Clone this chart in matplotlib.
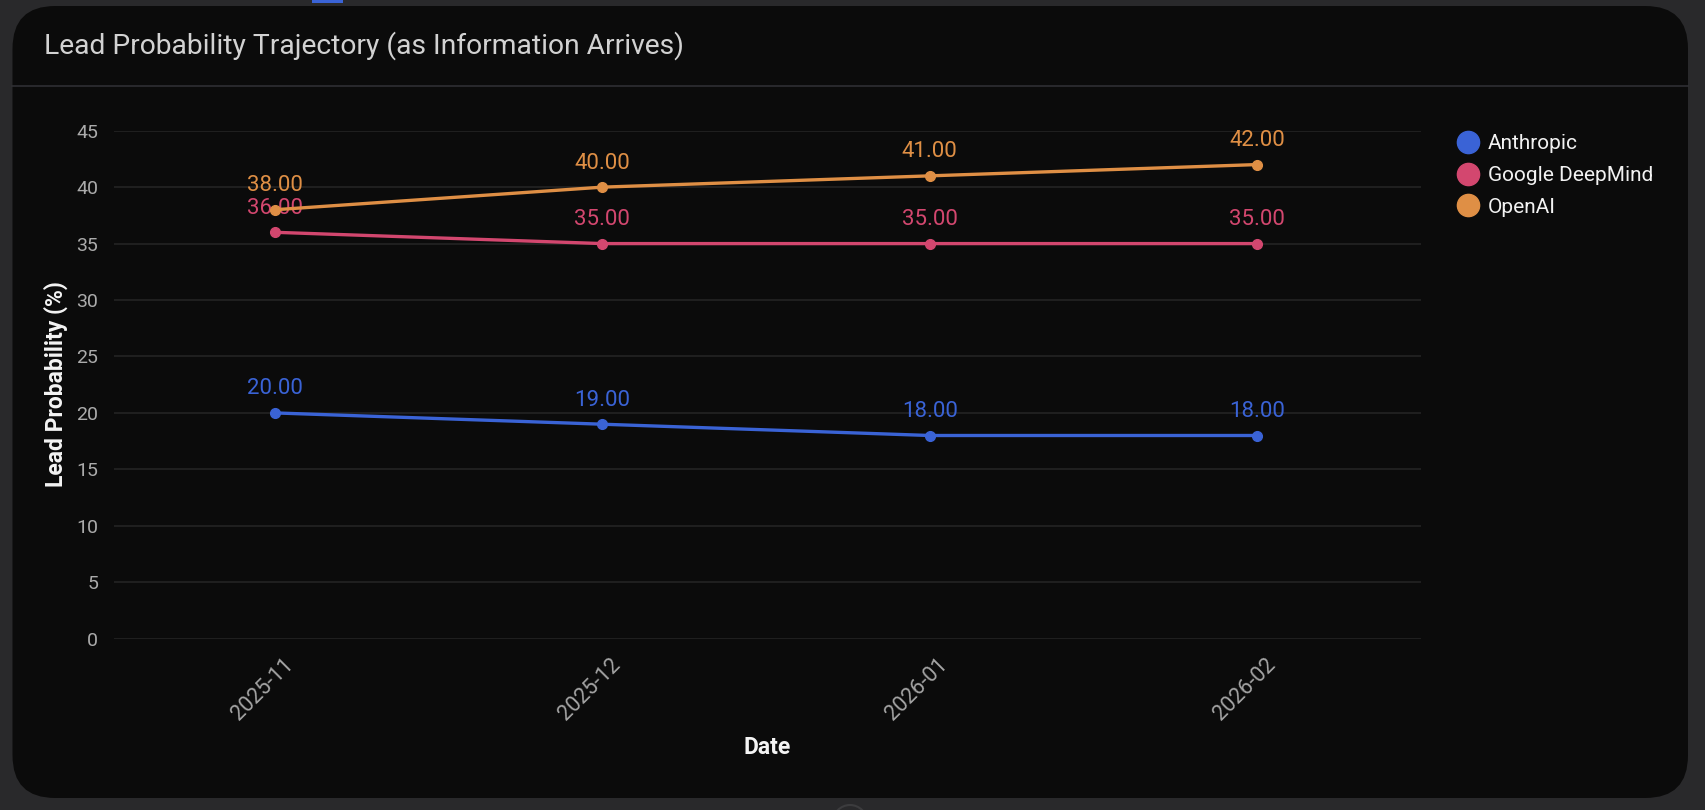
import matplotlib
matplotlib.use("Agg")
import matplotlib.pyplot as plt
from matplotlib.patches import FancyBboxPatch, Rectangle, Ellipse
from matplotlib.lines import Line2D
from matplotlib.transforms import ScaledTranslation

# chart data
dates = ["2025-11", "2025-12", "2026-01", "2026-02"]
series_names = ["Anthropic", "Google DeepMind", "OpenAI"]
anthropic = [20, 19, 18, 18]
google_deepmind = [36, 35, 35, 35]
openai = [38, 40, 41, 42]
series_colors = ["#3a63d6", "#d3476f", "#df8f45"]

W, H, DPI = 1706, 810, 100
PAGE_BG = "#29292b"
CARD_BG = "#0b0b0b"

plt.rcParams["font.family"] = ["Roboto", "DejaVu Sans"]


def px(x, y):
    """pixel position (top-left origin) -> figure fraction"""
    return x / W, 1 - y / H


fig = plt.figure(figsize=(W / DPI, H / DPI), dpi=DPI, facecolor=PAGE_BG)

# card background, header separator, small decorations (kept behind the axes)
card = FancyBboxPatch(
    (12.5 / W, 1 - 798 / H), (1688 - 12.5) / W, (798 - 6) / H,
    boxstyle="round,pad=0,rounding_size=0.025",
    transform=fig.transFigure, facecolor=CARD_BG, edgecolor="none",
    mutation_aspect=W / H, zorder=-10,
)
fig.add_artist(card)
fig.add_artist(Line2D([12.5 / W, 1688 / W], [1 - 86 / H] * 2,
                      transform=fig.transFigure, color="#2f2f33",
                      linewidth=1.2, zorder=-9))
fig.add_artist(Rectangle((312 / W, 1 - 2.5 / H), 31 / W, 2.5 / H,
                         transform=fig.transFigure, facecolor="#3a63d6",
                         edgecolor="none", zorder=-9))
fig.add_artist(Ellipse(px(850, 822), 34 / W, 34 / H, transform=fig.transFigure,
                       facecolor="none", edgecolor="#3c3c3e", linewidth=1.5,
                       zorder=-9))

fig.text(*px(44, 46), "Lead Probability Trajectory (as Information Arrives)",
         color="#d2d2d2", fontsize=20.3, ha="left", va="center")

ax = fig.add_axes([114 / W, (810 - 638.7) / H, (1421 - 114) / W, (638.7 - 130.7) / H])
ax.set_facecolor("none")
for side in ax.spines.values():
    side.set_visible(False)

x = list(range(len(dates)))
all_series = [anthropic, google_deepmind, openai]
for i, (name, vals, col) in enumerate(zip(series_names, all_series, series_colors)):
    ax.plot(x, vals, color=col, linewidth=2.4, marker="o", markersize=7,
            label=name, zorder=3 + 2 * i)
    for xi, v in zip(x, vals):
        ax.annotate(f"{v:.2f}", (xi, v), xytext=(0, 17.3), textcoords="offset points",
                    ha="center", va="center", color=col, fontsize=16,
                    zorder=2 + 2 * i)

ax.set_xlim(-0.492, 3.501)
ax.set_ylim(0, 45)
ax.set_yticks(range(0, 46, 5))
ax.set_xticks(x)
ax.set_xticklabels(dates)
ax.grid(axis="y", color="#242424", linewidth=1.2, zorder=0)
ax.grid(axis="x", visible=False)
ax.set_axisbelow(True)
ax.tick_params(axis="y", length=0, pad=11.5, labelsize=14, labelcolor="#ababab")
ax.tick_params(axis="x", length=0, pad=16.5, labelsize=15.5, labelcolor="#a4a4a4")
for lab in ax.get_xticklabels():
    lab.set_rotation(45)
    lab.set_ha("right")
    lab.set_va("center")
    lab.set_rotation_mode("anchor")
    lab.set_transform(lab.get_transform() + ScaledTranslation(15 / DPI, 0, fig.dpi_scale_trans))

fig.text(*px(56, 384), "Lead Probability (%)", rotation=90, color="#f4f4f4",
         fontsize=16.5, fontweight="bold", ha="center", va="center")
fig.text(*px(767, 747), "Date", color="#f4f4f4", fontsize=16.5,
         fontweight="bold", ha="center", va="center")

handles = [Line2D([], [], marker="o", linestyle="", markersize=16,
                  markerfacecolor=c, markeredgecolor=c) for c in series_colors]
leg = ax.legend(handles, series_names, loc="upper left",
                bbox_to_anchor=(1457.6 / W, 1 - 134 / H),
                bbox_transform=fig.transFigure, frameon=False, fontsize=15,
                handlelength=1.0, handletextpad=0.46, borderpad=0,
                borderaxespad=0, labelspacing=0.615)
for t in leg.get_texts():
    t.set_color("#f2f2f2")

fig.savefig("out.png", dpi=DPI, facecolor=PAGE_BG)
